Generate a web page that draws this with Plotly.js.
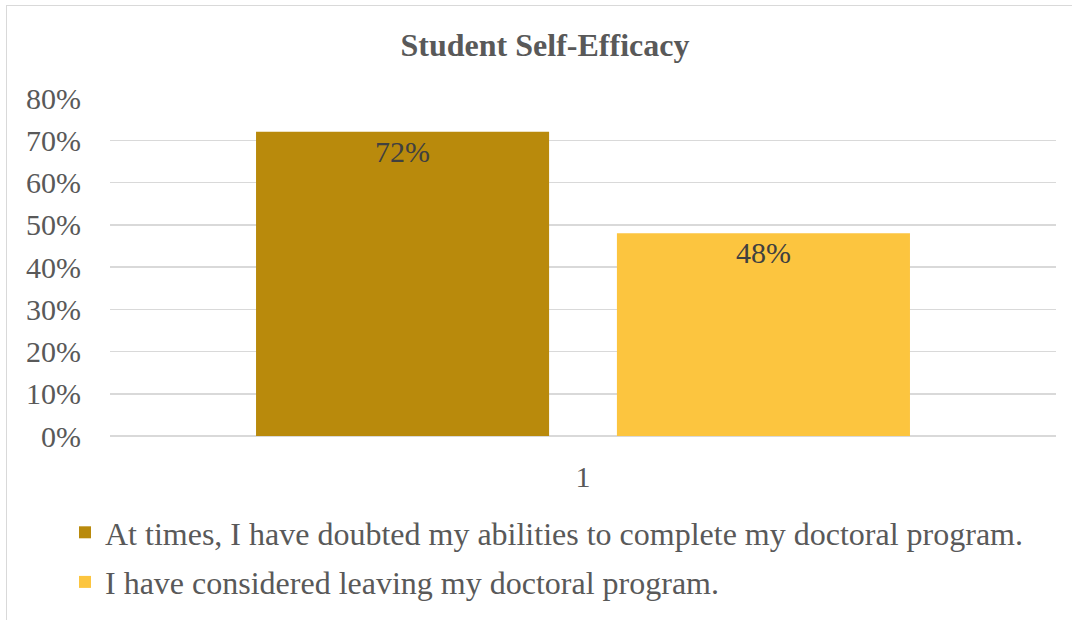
<!DOCTYPE html>
<html>
<head>
<meta charset="utf-8">
<script src="https://cdn.plot.ly/plotly-3.0.1.min.js"></script>
<style>
html,body{margin:0;padding:0;background:#fff;}
#wrap{position:relative;width:1072px;height:620px;overflow:hidden;}
#chart{width:1072px;height:620px;}
#frame{position:absolute;left:6px;top:5px;width:1080px;height:640px;border:1.5px solid #d9d9d9;pointer-events:none;}
</style>
</head>
<body>
<div id="wrap"><div id="chart"></div><div id="frame"></div></div>
<script>
const categories = ["1"];
const seriesNames = [
  "At times, I have doubted my abilities to complete my doctoral program.",
  "I have considered leaving my doctoral program."
];
const doubtedValues = [0.72];
const leavingValues = [0.48];
const yTickValues = [0, 0.1, 0.2, 0.3, 0.4, 0.5, 0.6, 0.7, 0.8];
const yTickLabels = ["0%", "10%", "20%", "30%", "40%", "50%", "60%", "70%", "80%"];

const FONT = "Liberation Serif, Times New Roman, serif";

const traces = [
  {
    type: "bar", x: categories, y: doubtedValues, name: seriesNames[0],
    legendgroup: "a",
    marker: {color: "#B98A0C"},
    texttemplate: "%{y:.0%}", textposition: "inside", insidetextanchor: "end",
    textangle: 0, constraintext: "none",
    textfont: {family: FONT, size: 30, color: "#404040"}
  },
  {
    type: "bar", x: categories, y: leavingValues, name: seriesNames[1],
    legendgroup: "b",
    marker: {color: "#FCC53F"},
    texttemplate: "%{y:.0%}", textposition: "inside", insidetextanchor: "end",
    textangle: 0, constraintext: "none",
    textfont: {family: FONT, size: 30, color: "#404040"}
  }
];

const layout = {
  width: 1072, height: 620,
  margin: {l: 110, r: 16, t: 98, b: 184, autoexpand: false},
  paper_bgcolor: "#ffffff", plot_bgcolor: "#ffffff",
  font: {family: FONT, color: "#595959", size: 30},
  title: {
    text: "<b>Student Self-Efficacy</b>",
    font: {family: FONT, size: 32, color: "#595959"},
    x: 545/1072, xanchor: "center", xref: "container",
    y: 1 - 45/620, yanchor: "middle", yref: "container",
    automargin: false
  },
  barmode: "group", bargap: 0.237, bargroupgap: 0.188,
  xaxis: {
    type: "category", showgrid: false, zeroline: false, showline: false,
    ticks: "", tickfont: {family: FONT, size: 30, color: "#595959"},
    ticklabelstandoff: 20, automargin: false
  },
  yaxis: {
    range: [0, 0.8], tickvals: yTickValues, ticktext: yTickLabels,
    showgrid: true, gridcolor: "#d9d9d9", gridwidth: 1.5,
    zeroline: true, zerolinecolor: "#d9d9d9", zerolinewidth: 1.5,
    showline: false, ticks: "",
    tickfont: {family: FONT, size: 30, color: "#595959"},
    ticklabelstandoff: 28, automargin: false
  },
  showlegend: true,
  legend: {
    orientation: "v", traceorder: "grouped", tracegroupgap: 5,
    x: 65/1072, xref: "container", xanchor: "left",
    y: 1 - 505/620, yref: "container", yanchor: "top",
    font: {family: FONT, size: 32, color: "#595959"},
    bgcolor: "rgba(0,0,0,0)"
  }
};

Plotly.newPlot("chart", traces, layout, {staticPlot: true, displayModeBar: false});
</script>
</body>
</html>
